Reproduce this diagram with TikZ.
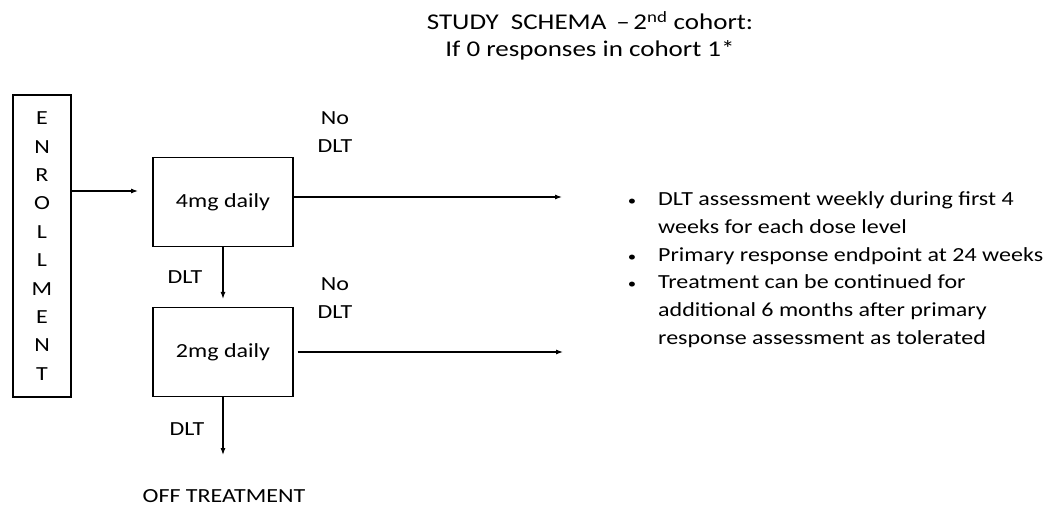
\documentclass[tikz,border=0pt]{standalone}
\usepackage{fontspec}
\setmainfont{Carlito}[FakeStretch=1.2]
\usepackage{tikz}
\usetikzlibrary{arrows.meta, positioning}

\begin{document}
\begin{tikzpicture}[x=1pt, y=-1pt,
  dosebox/.style={draw, line width=1.2pt, minimum width=140pt, minimum height=89pt, font=\fontsize{20}{24}\selectfont},
  lbl/.style={font=\fontsize{20}{28}\selectfont, anchor=base, align=center},
  bullettxt/.style={font=\fontsize{20}{27.6}\selectfont, anchor=base west, align=left, inner sep=0pt},
  flow/.style={-{Latex[length=7pt, width=5pt]}, line width=1.1pt},
]
\useasboundingbox (0,0) rectangle (1045,508);

% Titel (base = letzte Zeile)
\node[font=\fontsize{22.5}{27}\selectfont, anchor=base, align=center] (title) at (590, 57)
  {STUDY\ \ SCHEMA \,–\,2\textsuperscript{nd} cohort:\\If 0 responses in cohort 1*};

% Einschluss
\node[draw, line width=1.2pt, minimum width=58pt, minimum height=302pt, align=center,
  font=\fontsize{20}{28.4}\selectfont] (enr) at (42, 246)
  {E\\N\\R\\O\\L\\L\\M\\E\\N\\T};

% Dosisstufen
\node[dosebox] (dose4) at (223, 202) {4mg daily};
\node[dosebox] (dose2) at (223, 352) {2mg daily};
\node[lbl] (off) at (224, 502) {OFF TREATMENT};

% Pfeile
\coordinate (in4) at (138, 191);
\draw[flow] (enr.east |- in4) -- (in4);
\coordinate (out4) at (562, 197);
\draw[flow] (dose4.east |- out4) -- (out4);
\coordinate (out2) at (563, 352);
\draw[flow, shorten <=4pt] (dose2.east |- out2) -- (out2);
\draw[flow, shorten >=8pt] (dose4.south) -- (dose2.north);
\coordinate (stop) at (223, 455);
\draw[flow] (dose2.south) -- (stop);

% Beschriftungen
\node[lbl] (nodlt4) at (335, 153) {No\\DLT};
\node[lbl] (nodlt2) at (335, 318) {No\\DLT};
\node[lbl] (dlt4) at (185, 283) {DLT};
\node[lbl] (dlt2) at (187, 435) {DLT};

% Hinweise
\foreach \y/\n in {206/b1, 261.2/b2, 288.8/b3}
  \node[font=\fontsize{14}{14}\selectfont, anchor=base] (\n) at (632, \y) {•};
\node[bullettxt] (t1) at (658, 233.6) {DLT assessment weekly during first 4\\weeks for each dose level};
\node[bullettxt] (t2) at (658, 261.2) {Primary response endpoint at 24 weeks};
\node[bullettxt] (t3) at (658, 344) {Treatment can be continued for\\additional 6 months after primary\\response assessment as tolerated};

\end{tikzpicture}
\end{document}
